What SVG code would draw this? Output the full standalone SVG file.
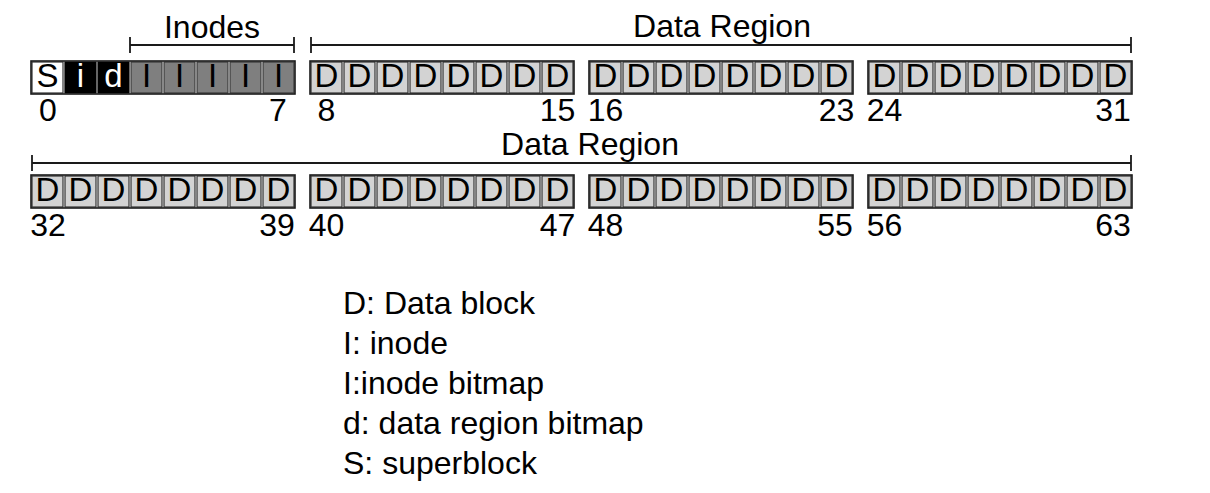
<svg xmlns="http://www.w3.org/2000/svg" width="1210" height="493" viewBox="0 0 1210 493">
<style>
text{font-family:"Liberation Sans",Arial,sans-serif;fill:#000}
.t{font-size:32px;text-anchor:middle}
.n{font-size:32px;text-anchor:middle}
.c{font-size:33px;text-anchor:middle}
.w{fill:#fff}
.outer{fill:none;stroke:#1a1a1a;stroke-width:1.6}
.dc{fill:#d3d3d3;stroke:#333;stroke-width:1.2}
.gc{fill:#7f7f7f;stroke:#3a3a3a;stroke-width:1.2}
.bc{fill:#000;stroke:#000;stroke-width:1.2}
.sc{fill:#fff;stroke:#333;stroke-width:1.2}
.br{stroke:#1a1a1a;stroke-width:1.8;fill:none}
.lg{font-size:32px}
</style>
<rect width="1210" height="493" fill="#fff"/>

<g id="brackets">
<path class="br" d="M130 45H294M130 37V53M294 37V53"/>
<path class="br" d="M311 45H1131M311 37V53M1131 37V53"/>
<path class="br" d="M32 163H1131M32 155V171M1131 155V171"/>
<text class="t" x="212" y="38">Inodes</text>
<text class="t" x="722" y="37">Data Region</text>
<text class="t" x="590" y="155">Data Region</text>
</g>

<g id="blocks-0-7">
<rect class="sc" x="32" y="62" width="31" height="31"/>
<rect class="bc" x="65" y="62" width="31" height="31"/>
<rect class="bc" x="98" y="62" width="31" height="31"/>
<rect class="gc" x="131" y="62" width="31" height="31"/>
<rect class="gc" x="164" y="62" width="31" height="31"/>
<rect class="gc" x="197" y="62" width="31" height="31"/>
<rect class="gc" x="230" y="62" width="31" height="31"/>
<rect class="gc" x="263" y="62" width="31" height="31"/>
<rect class="outer" x="31" y="61" width="264" height="33"/>
<text class="c" x="47.5" y="87">S</text>
<text class="c w" x="80.5" y="87">i</text>
<text class="c w" x="113.5" y="87">d</text>
<text class="c" x="146.5" y="87">I</text>
<text class="c" x="179.5" y="87">I</text>
<text class="c" x="212.5" y="87">I</text>
<text class="c" x="245.5" y="87">I</text>
<text class="c" x="278.5" y="87">I</text>
<text class="n" x="48" y="121">0</text>
<text class="n" x="278" y="121">7</text>
</g>

<g id="blocks-8-15">
<rect class="dc" x="311" y="62" width="31" height="31"/>
<rect class="dc" x="344" y="62" width="31" height="31"/>
<rect class="dc" x="377" y="62" width="31" height="31"/>
<rect class="dc" x="410" y="62" width="31" height="31"/>
<rect class="dc" x="443" y="62" width="31" height="31"/>
<rect class="dc" x="476" y="62" width="31" height="31"/>
<rect class="dc" x="509" y="62" width="31" height="31"/>
<rect class="dc" x="542" y="62" width="31" height="31"/>
<rect class="outer" x="310" y="61" width="264" height="33"/>
<text class="c" x="326.5" y="87">D</text>
<text class="c" x="359.5" y="87">D</text>
<text class="c" x="392.5" y="87">D</text>
<text class="c" x="425.5" y="87">D</text>
<text class="c" x="458.5" y="87">D</text>
<text class="c" x="491.5" y="87">D</text>
<text class="c" x="524.5" y="87">D</text>
<text class="c" x="557.5" y="87">D</text>
<text class="n" x="326.5" y="121">8</text>
<text class="n" x="557.5" y="121">15</text>
</g>

<g id="blocks-16-23">
<rect class="dc" x="590" y="62" width="31" height="31"/>
<rect class="dc" x="623" y="62" width="31" height="31"/>
<rect class="dc" x="656" y="62" width="31" height="31"/>
<rect class="dc" x="689" y="62" width="31" height="31"/>
<rect class="dc" x="722" y="62" width="31" height="31"/>
<rect class="dc" x="755" y="62" width="31" height="31"/>
<rect class="dc" x="788" y="62" width="31" height="31"/>
<rect class="dc" x="821" y="62" width="31" height="31"/>
<rect class="outer" x="589" y="61" width="264" height="33"/>
<text class="c" x="605.5" y="87">D</text>
<text class="c" x="638.5" y="87">D</text>
<text class="c" x="671.5" y="87">D</text>
<text class="c" x="704.5" y="87">D</text>
<text class="c" x="737.5" y="87">D</text>
<text class="c" x="770.5" y="87">D</text>
<text class="c" x="803.5" y="87">D</text>
<text class="c" x="836.5" y="87">D</text>
<text class="n" x="605.5" y="121">16</text>
<text class="n" x="836.5" y="121">23</text>
</g>

<g id="blocks-24-31">
<rect class="dc" x="869" y="62" width="31" height="31"/>
<rect class="dc" x="902" y="62" width="31" height="31"/>
<rect class="dc" x="935" y="62" width="31" height="31"/>
<rect class="dc" x="968" y="62" width="31" height="31"/>
<rect class="dc" x="1001" y="62" width="31" height="31"/>
<rect class="dc" x="1034" y="62" width="31" height="31"/>
<rect class="dc" x="1067" y="62" width="31" height="31"/>
<rect class="dc" x="1100" y="62" width="31" height="31"/>
<rect class="outer" x="868" y="61" width="264" height="33"/>
<text class="c" x="884.5" y="87">D</text>
<text class="c" x="917.5" y="87">D</text>
<text class="c" x="950.5" y="87">D</text>
<text class="c" x="983.5" y="87">D</text>
<text class="c" x="1016.5" y="87">D</text>
<text class="c" x="1049.5" y="87">D</text>
<text class="c" x="1082.5" y="87">D</text>
<text class="c" x="1115.5" y="87">D</text>
<text class="n" x="884.5" y="121">24</text>
<text class="n" x="1113" y="121">31</text>
</g>

<g id="blocks-32-39">
<rect class="dc" x="32" y="176" width="31" height="31"/>
<rect class="dc" x="65" y="176" width="31" height="31"/>
<rect class="dc" x="98" y="176" width="31" height="31"/>
<rect class="dc" x="131" y="176" width="31" height="31"/>
<rect class="dc" x="164" y="176" width="31" height="31"/>
<rect class="dc" x="197" y="176" width="31" height="31"/>
<rect class="dc" x="230" y="176" width="31" height="31"/>
<rect class="dc" x="263" y="176" width="31" height="31"/>
<rect class="outer" x="31" y="175" width="264" height="33"/>
<text class="c" x="47.5" y="201">D</text>
<text class="c" x="80.5" y="201">D</text>
<text class="c" x="113.5" y="201">D</text>
<text class="c" x="146.5" y="201">D</text>
<text class="c" x="179.5" y="201">D</text>
<text class="c" x="212.5" y="201">D</text>
<text class="c" x="245.5" y="201">D</text>
<text class="c" x="278.5" y="201">D</text>
<text class="n" x="48" y="236">32</text>
<text class="n" x="277" y="236">39</text>
</g>

<g id="blocks-40-47">
<rect class="dc" x="311" y="176" width="31" height="31"/>
<rect class="dc" x="344" y="176" width="31" height="31"/>
<rect class="dc" x="377" y="176" width="31" height="31"/>
<rect class="dc" x="410" y="176" width="31" height="31"/>
<rect class="dc" x="443" y="176" width="31" height="31"/>
<rect class="dc" x="476" y="176" width="31" height="31"/>
<rect class="dc" x="509" y="176" width="31" height="31"/>
<rect class="dc" x="542" y="176" width="31" height="31"/>
<rect class="outer" x="310" y="175" width="264" height="33"/>
<text class="c" x="326.5" y="201">D</text>
<text class="c" x="359.5" y="201">D</text>
<text class="c" x="392.5" y="201">D</text>
<text class="c" x="425.5" y="201">D</text>
<text class="c" x="458.5" y="201">D</text>
<text class="c" x="491.5" y="201">D</text>
<text class="c" x="524.5" y="201">D</text>
<text class="c" x="557.5" y="201">D</text>
<text class="n" x="326.5" y="236">40</text>
<text class="n" x="557.5" y="236">47</text>
</g>

<g id="blocks-48-55">
<rect class="dc" x="590" y="176" width="31" height="31"/>
<rect class="dc" x="623" y="176" width="31" height="31"/>
<rect class="dc" x="656" y="176" width="31" height="31"/>
<rect class="dc" x="689" y="176" width="31" height="31"/>
<rect class="dc" x="722" y="176" width="31" height="31"/>
<rect class="dc" x="755" y="176" width="31" height="31"/>
<rect class="dc" x="788" y="176" width="31" height="31"/>
<rect class="dc" x="821" y="176" width="31" height="31"/>
<rect class="outer" x="589" y="175" width="264" height="33"/>
<text class="c" x="605.5" y="201">D</text>
<text class="c" x="638.5" y="201">D</text>
<text class="c" x="671.5" y="201">D</text>
<text class="c" x="704.5" y="201">D</text>
<text class="c" x="737.5" y="201">D</text>
<text class="c" x="770.5" y="201">D</text>
<text class="c" x="803.5" y="201">D</text>
<text class="c" x="836.5" y="201">D</text>
<text class="n" x="605.5" y="236">48</text>
<text class="n" x="835" y="236">55</text>
</g>

<g id="blocks-56-63">
<rect class="dc" x="869" y="176" width="31" height="31"/>
<rect class="dc" x="902" y="176" width="31" height="31"/>
<rect class="dc" x="935" y="176" width="31" height="31"/>
<rect class="dc" x="968" y="176" width="31" height="31"/>
<rect class="dc" x="1001" y="176" width="31" height="31"/>
<rect class="dc" x="1034" y="176" width="31" height="31"/>
<rect class="dc" x="1067" y="176" width="31" height="31"/>
<rect class="dc" x="1100" y="176" width="31" height="31"/>
<rect class="outer" x="868" y="175" width="264" height="33"/>
<text class="c" x="884.5" y="201">D</text>
<text class="c" x="917.5" y="201">D</text>
<text class="c" x="950.5" y="201">D</text>
<text class="c" x="983.5" y="201">D</text>
<text class="c" x="1016.5" y="201">D</text>
<text class="c" x="1049.5" y="201">D</text>
<text class="c" x="1082.5" y="201">D</text>
<text class="c" x="1115.5" y="201">D</text>
<text class="n" x="884.5" y="236">56</text>
<text class="n" x="1113" y="236">63</text>
</g>

<g id="legend">
<text class="lg" x="343" y="314">D: Data block</text>
<text class="lg" x="343" y="354">I: inode</text>
<text class="lg" x="343" y="394">I:inode bitmap</text>
<text class="lg" x="343" y="434">d: data region bitmap</text>
<text class="lg" x="343" y="474">S: superblock</text>
</g>
</svg>
